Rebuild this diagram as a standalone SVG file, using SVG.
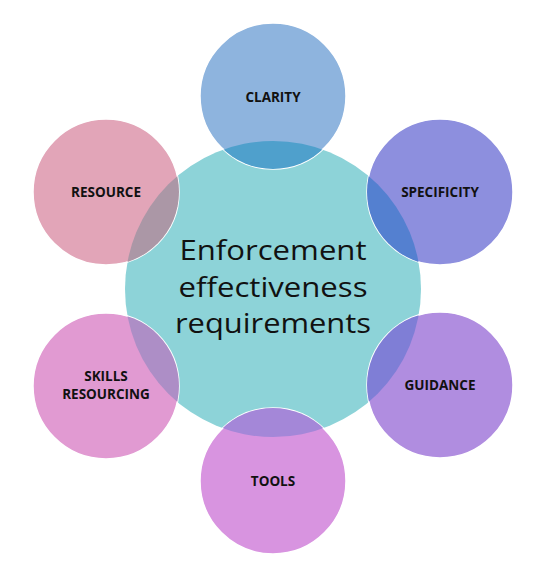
<svg xmlns="http://www.w3.org/2000/svg" width="540" height="577" viewBox="0 0 540 577">
<style>
.lbl{font-family:"Open Sans","Liberation Sans",sans-serif;font-weight:bold;font-size:13.5px;fill:#111;text-anchor:middle;dominant-baseline:central}
.main{font-family:"Open Sans","Liberation Sans",sans-serif;font-size:28px;fill:#111;text-anchor:middle}
.out{stroke:#fff;stroke-width:1.5}
</style>
<defs>
<clipPath id="cc"><circle cx="273" cy="289" r="148"/></clipPath>
</defs>
<rect width="540" height="577" fill="#fff"/>
<g id="center">
<circle cx="273" cy="289" r="148" fill="#8DD3D8"/>
</g>
<g id="clarity">
<circle class="out" cx="273" cy="96" r="73" fill="#8EB4DE"/>
<circle cx="273" cy="96" r="73" fill="#4FA0CC" clip-path="url(#cc)"/>
<text class="lbl" x="273" y="97">CLARITY</text>
</g>
<g id="specificity">
<circle class="out" cx="440" cy="192" r="73" fill="#8D8FDE"/>
<circle cx="440" cy="192" r="73" fill="#5480D0" clip-path="url(#cc)"/>
<text class="lbl" x="440" y="192">SPECIFICITY</text>
</g>
<g id="guidance">
<circle class="out" cx="440" cy="385" r="73" fill="#B08DE0"/>
<circle cx="440" cy="385" r="73" fill="#7F7ED6" clip-path="url(#cc)"/>
<text class="lbl" x="440" y="385">GUIDANCE</text>
</g>
<g id="tools">
<circle class="out" cx="273" cy="481" r="73" fill="#D894E0"/>
<circle cx="273" cy="481" r="73" fill="#A487D8" clip-path="url(#cc)"/>
<text class="lbl" x="273" y="481">TOOLS</text>
</g>
<g id="skills">
<circle class="out" cx="106" cy="386" r="73" fill="#E19AD2"/>
<circle cx="106" cy="386" r="73" fill="#AD8EC6" clip-path="url(#cc)"/>
<text class="lbl" x="106" y="376">SKILLS</text>
<text class="lbl" x="106" y="394">RESOURCING</text>
</g>
<g id="resource">
<circle class="out" cx="106" cy="192" r="73" fill="#E2A5B8"/>
<circle cx="106" cy="192" r="73" fill="#AB97A6" clip-path="url(#cc)"/>
<text class="lbl" x="106" y="192">RESOURCE</text>
</g>
<g id="center-label">
<text class="main" x="273" y="260" textLength="187" lengthAdjust="spacingAndGlyphs">Enforcement</text>
<text class="main" x="273" y="297" textLength="189" lengthAdjust="spacingAndGlyphs">effectiveness</text>
<text class="main" x="273" y="333" textLength="196" lengthAdjust="spacingAndGlyphs">requirements</text>
</g>
<g id="connectors"/>
</svg>
